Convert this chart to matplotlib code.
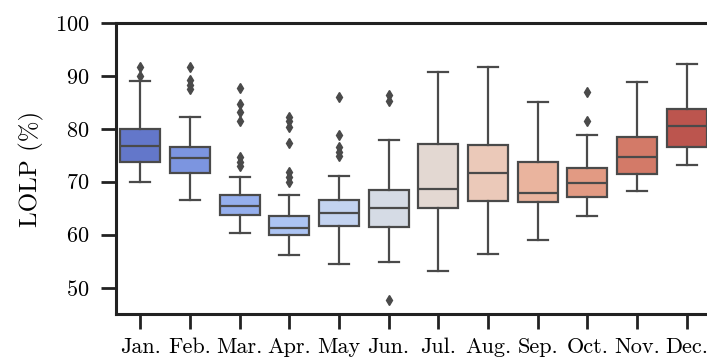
import matplotlib
matplotlib.use("Agg")
import matplotlib.pyplot as plt
import matplotlib.colors as mcolors
import seaborn as sns
import colorsys

# monthly LOLP box statistics (%)
months = ["Jan.", "Feb.", "Mar.", "Apr.", "May", "Jun.",
          "Jul.", "Aug.", "Sep.", "Oct.", "Nov.", "Dec."]
whislo = [69.9, 66.6, 60.4, 56.2, 54.5, 54.8, 53.2, 56.4, 59.0, 63.5, 68.2, 73.2]
q1 = [73.7, 71.7, 63.8, 59.9, 61.7, 61.5, 65.0, 66.4, 66.1, 67.2, 71.4, 76.5]
med = [76.8, 74.4, 65.5, 61.2, 64.1, 65.1, 68.7, 71.7, 67.8, 69.7, 74.6, 80.5]
q3 = [80.0, 76.5, 67.5, 63.5, 66.5, 68.4, 77.1, 77.0, 73.8, 72.6, 78.5, 83.8]
whishi = [89.1, 82.2, 70.9, 67.5, 71.1, 77.9, 90.8, 91.6, 85.1, 78.9, 88.9, 92.3]
fliers = [
    [91.6, 90.0],
    [91.6, 89.2, 88.3, 87.5],
    [87.7, 84.7, 83.1, 81.4, 74.7, 73.7, 73.0],
    [82.3, 81.4, 80.4, 77.3, 71.8, 70.9, 69.9],
    [86.1, 78.9, 76.5, 75.6, 74.8],
    [86.4, 85.3, 47.7],
    [], [], [],
    [87.0, 81.5],
    [], [],
]

plt.rcParams['font.family'] = 'cmr10'
plt.rcParams['axes.formatter.use_mathtext'] = True


def desat(c, prop=0.75):
    h, l, s = colorsys.rgb_to_hls(*mcolors.to_rgb(c))
    return colorsys.hls_to_rgb(h, l, s * prop)


pal = [desat(c) for c in sns.color_palette("coolwarm", len(months))]
line_c = "#4a4a4a"

stats = []
for i in range(len(months)):
    stats.append(dict(whislo=whislo[i], q1=q1[i], med=med[i], q3=q3[i],
                      whishi=whishi[i], fliers=fliers[i], label=months[i]))

fig = plt.figure(figsize=(7.07, 3.59), dpi=100)
ax = fig.add_axes([116 / 707, 1 - 314 / 359, (712 - 116) / 707, (314 - 23) / 359])

bp = ax.bxp(stats, positions=range(len(months)), widths=0.8, patch_artist=True,
            boxprops=dict(edgecolor=line_c, linewidth=1.6),
            medianprops=dict(color=line_c, linewidth=1.6),
            whiskerprops=dict(color=line_c, linewidth=1.6),
            capprops=dict(color=line_c, linewidth=1.6),
            flierprops=dict(marker='d', markerfacecolor=line_c,
                            markeredgecolor=line_c, markersize=5.5))
for patch, c in zip(bp['boxes'], pal):
    patch.set_facecolor(c)

ax.set_xlim(-0.49, 11.51)
ax.set_ylim(45, 100)
ax.set_yticks([50, 60, 70, 80, 90, 100])
ax.set_xticks(range(len(months)))
ax.set_xticklabels(months)
ax.set_ylabel("LOLP (%)", fontsize=18, labelpad=8)
ax.tick_params(axis='both', labelsize=16, length=11, width=2, direction='out',
               color='#222222')
ax.tick_params(axis='x', pad=6)
ax.tick_params(axis='y', pad=8)
for side in ['left', 'bottom', 'top', 'right']:
    ax.spines[side].set_linewidth(2.2)
    ax.spines[side].set_color('#222222')

fig.savefig("out.png", dpi=100)
